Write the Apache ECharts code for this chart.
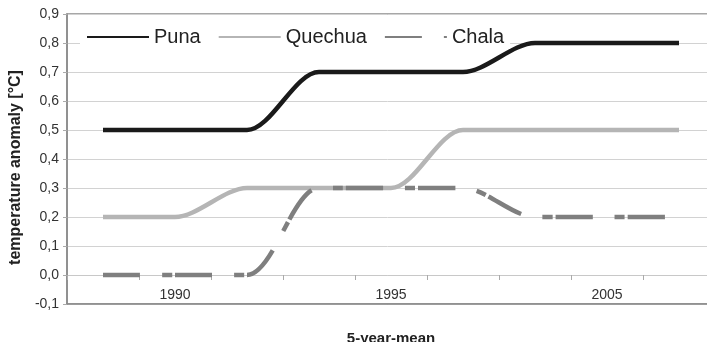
<!DOCTYPE html>
<html>
<head>
<meta charset="utf-8">
<script src="https://cdn.jsdelivr.net/npm/echarts@6/dist/echarts.min.js"></script>
<style>
  html, body { margin: 0; padding: 0; background: #fff; }
  #chart { width: 707px; height: 342px; }
</style>
</head>
<body>
<div id="chart"></div>
<script>
const categories = ['c1', 'c2', 'c3', 'c4', 'c5', 'c6', 'c7', 'c8', 'c9']
const tickLabels = ['', '1990', '', '', '1995', '', '', '2005', '']
const puna = [0.5, 0.5, 0.5, 0.7, 0.7, 0.7, 0.8, 0.8, 0.8]
const quechua = [0.2, 0.2, 0.3, 0.3, 0.3, 0.5, 0.5, 0.5, 0.5]
const chala = [0.0, 0.0, 0.0, 0.3, 0.3, 0.3, 0.2, 0.2, 0.2]

const chart = echarts.init(document.getElementById('chart'))
const font = 'Liberation Sans, Arial, sans-serif'

function lineSeries(name, data, color, width, dash) {
  return {
    name, type: 'line', data,
    smooth: 0.3,
    showSymbol: false, symbol: 'none',
    lineStyle: { color, width, type: dash || 'solid', cap: 'butt' },
    itemStyle: { color },
    animation: false
  }
}

chart.setOption({
  grid: {
    left: 67, top: 14, width: 648, height: 290,
    outerBoundsMode: 'none', containLabel: false,
    show: true, borderColor: '#8a8a8a', borderWidth: 1.5
  },
  legend: {
    left: 80, top: 25,
    backgroundColor: '#fff',
    padding: [2, 6],
    itemWidth: 62, itemHeight: 14, itemGap: 17,
    itemStyle: { opacity: 0 },
    textStyle: { fontFamily: font, fontSize: 20, color: '#222' },
    data: ['Puna', 'Quechua', 'Chala']
  },
  xAxis: [{
    // bottom frame + axis title
    type: 'category',
    data: categories,
    position: 'bottom',
    name: '5-year-mean',
    nameLocation: 'middle',
    nameGap: 27,
    nameTextStyle: { fontFamily: font, fontSize: 15, fontWeight: 'bold', color: '#222', verticalAlign: 'top' },
    axisLine: { show: true, onZero: false, lineStyle: { color: '#8a8a8a', width: 1.5 } },
    axisTick: { show: false },
    axisLabel: { show: false },
    splitLine: { show: false }
  }, {
    // category axis drawn on the 0,0 line
    type: 'category',
    data: categories,
    position: 'bottom',
    offset: -29,
    axisLine: { show: true, onZero: false, lineStyle: { color: '#c8c8c8', width: 1 } },
    axisTick: { show: true, length: 5, lineStyle: { color: '#aaa' } },
    axisLabel: {
      interval: 0, margin: 13,
      fontFamily: font, fontSize: 14, color: '#333',
      formatter: (v, i) => tickLabels[i]
    },
    splitLine: { show: false }
  }],
  yAxis: {
    type: 'value',
    min: -0.1, max: 0.9, interval: 0.1,
    name: 'temperature anomaly [°C]',
    nameLocation: 'middle',
    nameGap: 42,
    nameRotate: 90,
    nameTextStyle: { fontFamily: font, fontSize: 16, fontWeight: 'bold', color: '#222', padding: [0, 17, 0, 0] },
    axisLine: { show: true, lineStyle: { color: '#8a8a8a', width: 1.5 } },
    axisTick: { show: true, length: 4, lineStyle: { color: '#aaa' } },
    axisLabel: {
      margin: 8, fontFamily: font, fontSize: 14, color: '#333',
      formatter: v => v.toFixed(1).replace('.', ',')
    },
    splitLine: { show: true, lineStyle: { color: '#d2d2d2', width: 1 } }
  },
  series: [
    lineSeries('Puna', puna, '#1a1a1a', 4.5),
    lineSeries('Quechua', quechua, '#b5b5b5', 4.5),
    lineSeries('Chala', chala, '#7f7f7f', 4.5, [37, 22, 10, 3])
  ]
})
</script>
</body>
</html>
